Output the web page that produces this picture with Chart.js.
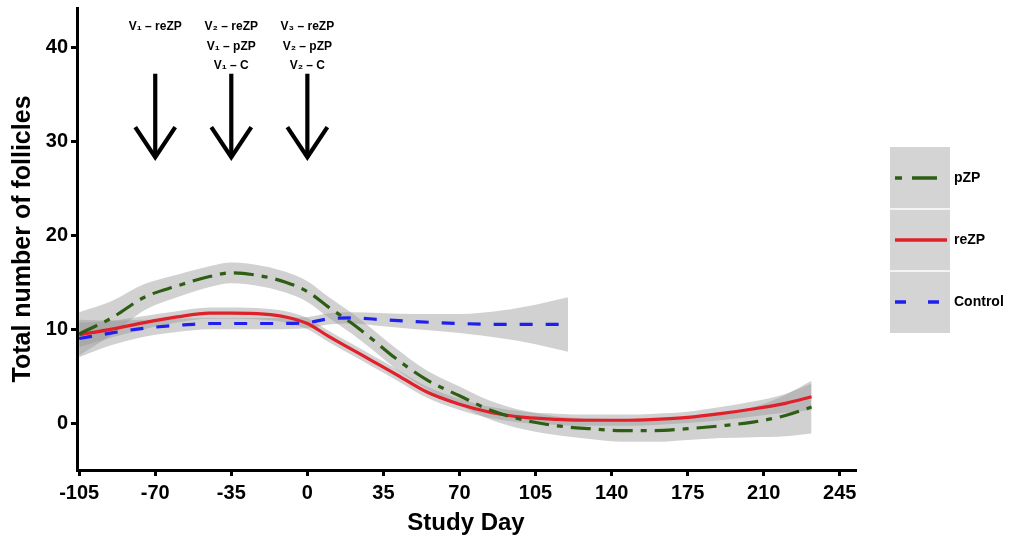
<!DOCTYPE html>
<html>
<head>
    <title>Total number of follicles by study day</title>
    <script src="https://cdn.jsdelivr.net/npm/chart.js@4.4.1/dist/chart.umd.min.js"></script>
    <style>
        html, body {
            margin: 0;
            padding: 0;
            background-color: white;
        }
        .chart-container {
            width: 1015px;
            height: 538px;
        }
    </style>
</head>
<body>
    <div class="chart-container">
        <canvas id="follicleChart"></canvas>
    </div>

    <script>
        // 数据
        const days = [-105, -90, -75, -60, -45, -35, -20, -10, 0, 10, 20, 30, 40, 55, 70, 85, 100, 115, 130, 145, 160, 175, 190, 205, 220, 232];
        const pZP = [9.5, 11.2, 13.4, 14.6, 15.6, 16.0, 15.6, 15.0, 14.0, 12.3, 10.7, 8.9, 7.0, 4.6, 2.9, 1.3, 0.3, -0.3, -0.6, -0.8, -0.8, -0.6, -0.3, 0.1, 0.8, 1.7];
        const pZPLower = [7.2, 9.4, 12.0, 13.4, 14.5, 14.9, 14.5, 13.9, 12.9, 11.2, 9.6, 7.8, 5.9, 3.6, 1.9, 0.3, -0.7, -1.3, -1.7, -2.0, -2.0, -1.8, -1.6, -1.5, -1.4, -1.1];
        const pZPUpper = [11.8, 13.0, 14.8, 15.8, 16.7, 17.1, 16.7, 16.1, 15.1, 13.4, 11.8, 10.0, 8.1, 5.6, 3.9, 2.3, 1.3, 0.7, 0.5, 0.4, 0.4, 0.6, 1.0, 1.7, 3.0, 4.5];

        const reZP = [9.4, 10.0, 10.7, 11.3, 11.7, 11.7, 11.6, 11.3, 10.6, 9.2, 7.9, 6.6, 5.3, 3.3, 2.0, 1.1, 0.6, 0.4, 0.3, 0.3, 0.4, 0.6, 1.0, 1.5, 2.1, 2.8];
        const reZPLower = [8.1, 9.1, 10.0, 10.7, 11.1, 11.1, 11.0, 10.7, 10.0, 8.6, 7.3, 6.0, 4.7, 2.7, 1.4, 0.5, 0.0, -0.2, -0.3, -0.3, -0.2, 0.0, 0.3, 0.7, 1.1, 1.4];
        const reZPUpper = [10.7, 10.9, 11.4, 11.9, 12.3, 12.3, 12.2, 11.9, 11.2, 9.8, 8.5, 7.2, 5.9, 3.9, 2.6, 1.7, 1.2, 1.0, 0.9, 0.9, 1.0, 1.2, 1.7, 2.3, 3.1, 4.2];

        const controlDays = [-105, -90, -75, -60, -45, -30, -15, 0, 10, 20, 35, 50, 70, 90, 105, 120];
        const control = [9.0, 9.6, 10.1, 10.4, 10.6, 10.6, 10.6, 10.7, 11.1, 11.2, 11.0, 10.8, 10.6, 10.5, 10.5, 10.5];
        const controlLower = [7.0, 8.3, 9.2, 9.7, 10.0, 10.0, 10.0, 10.1, 10.5, 10.6, 10.3, 10.0, 9.6, 9.0, 8.4, 7.6];
        const controlUpper = [11.0, 10.9, 11.0, 11.1, 11.2, 11.2, 11.2, 11.3, 11.7, 11.8, 11.7, 11.6, 11.6, 12.0, 12.6, 13.4];

        const xTicks = [-105, -70, -35, 0, 35, 70, 105, 140, 175, 210, 245];
        const yTicks = [0, 10, 20, 30, 40];

        // vaccination arrows
        const arrowDays = [-70, -35, 0];
        const arrowTop = 37.2;
        const arrowTip = 28.0;
        const arrowLabels = [
            ['V\u2081 \u2013 reZP'],
            ['V\u2082 \u2013 reZP', 'V\u2081 \u2013 pZP', 'V\u2081 \u2013 C'],
            ['V\u2083 \u2013 reZP', 'V\u2082 \u2013 pZP', 'V\u2082 \u2013 C']
        ];

        const legendNames = ['pZP', 'reZP', 'Control'];

        const GREEN = '#2e5e14';
        const RED = '#e0202a';
        const BLUE = '#1f1ff0';
        const BAND = 'rgba(153,153,153,0.45)';
        const FONT = 'Liberation Sans, Arial, sans-serif';

        function pts(xs, ys) {
            return xs.map((x, i) => ({ x: x, y: ys[i] }));
        }

        function lineSet(label, xs, ys, color, dash) {
            return {
                label: label,
                data: pts(xs, ys),
                borderColor: color,
                borderWidth: 3.2,
                borderDash: dash,
                pointRadius: 0,
                fill: false,
                cubicInterpolationMode: 'monotone',
                order: 0
            };
        }

        function bandSet(xs, ys, fillTarget) {
            return {
                label: '',
                data: pts(xs, ys),
                borderWidth: 0,
                borderColor: 'rgba(0,0,0,0)',
                backgroundColor: BAND,
                pointRadius: 0,
                fill: fillTarget === null ? false : { target: fillTarget },
                cubicInterpolationMode: 'monotone',
                order: 1
            };
        }

        // 箭头和图例
        const annotations = {
            id: 'annotations',
            afterDraw(chart) {
                const ctx = chart.ctx;
                const xs = chart.scales.x;
                const ys = chart.scales.y;
                const area = chart.chartArea;

                ctx.save();
                ctx.strokeStyle = '#000';
                ctx.fillStyle = '#000';
                ctx.lineWidth = 4.2;
                ctx.lineCap = 'butt';
                ctx.lineJoin = 'miter';
                arrowDays.forEach((d, i) => {
                    const px = xs.getPixelForValue(d);
                    const y0 = ys.getPixelForValue(arrowTop);
                    const y1 = ys.getPixelForValue(arrowTip);
                    ctx.beginPath();
                    ctx.moveTo(px, y0);
                    ctx.lineTo(px, y1 - 3);
                    ctx.stroke();
                    ctx.beginPath();
                    ctx.moveTo(px - 20, y1 - 33);
                    ctx.lineTo(px, y1 - 3);
                    ctx.lineTo(px + 20, y1 - 33);
                    ctx.stroke();

                    ctx.font = 'bold 12px ' + FONT;
                    ctx.textAlign = 'center';
                    ctx.textBaseline = 'middle';
                    arrowLabels[i].forEach((t, j) => {
                        ctx.fillText(t, px, area.top + 19 + j * 19.5);
                    });
                });

                // legend
                const lx = area.right + 35;
                const ly = area.top + 139;
                const kw = 60;
                const kh = 62;
                const styles = [
                    { c: GREEN, dash: [7, 10, 25, 100], x0: 5, x1: 47 },
                    { c: RED, dash: [], x0: 5, x1: 57 },
                    { c: BLUE, dash: [11, 22], x0: 5, x1: 57 }
                ];
                legendNames.forEach((name, i) => {
                    const top = ly + i * kh;
                    ctx.fillStyle = '#d4d4d4';
                    ctx.fillRect(lx, top, kw, kh);
                    ctx.strokeStyle = '#ffffff';
                    ctx.lineWidth = 1.5;
                    ctx.setLineDash([]);
                    if (i > 0) {
                        ctx.beginPath();
                        ctx.moveTo(lx, top);
                        ctx.lineTo(lx + kw, top);
                        ctx.stroke();
                    }
                    const s = styles[i];
                    ctx.strokeStyle = s.c;
                    ctx.lineWidth = 3.5;
                    ctx.setLineDash(s.dash);
                    ctx.beginPath();
                    ctx.moveTo(lx + s.x0, top + kh / 2);
                    ctx.lineTo(lx + s.x1, top + kh / 2);
                    ctx.stroke();
                    ctx.setLineDash([]);
                    ctx.fillStyle = '#000';
                    ctx.font = 'bold 14px ' + FONT;
                    ctx.textAlign = 'left';
                    ctx.textBaseline = 'middle';
                    ctx.fillText(name, lx + kw + 4, top + kh / 2);
                });
                ctx.restore();
            }
        };

        function createChart() {
            const ctx = document.getElementById('follicleChart').getContext('2d');
            new Chart(ctx, {
                type: 'line',
                data: {
                    datasets: [
                        lineSet('pZP', days, pZP, GREEN, [20, 8, 6, 8]),
                        lineSet('reZP', days, reZP, RED, []),
                        lineSet('Control', controlDays, control, BLUE, [13, 13]),
                        bandSet(days, pZPLower, null),
                        bandSet(days, pZPUpper, 3),
                        bandSet(days, reZPLower, null),
                        bandSet(days, reZPUpper, 5),
                        bandSet(controlDays, controlLower, null),
                        bandSet(controlDays, controlUpper, 7)
                    ]
                },
                options: {
                    responsive: true,
                    maintainAspectRatio: false,
                    animation: false,
                    layout: {
                        padding: { top: 8, right: 160, left: 0, bottom: 0 }
                    },
                    plugins: {
                        legend: { display: false },
                        tooltip: { enabled: false }
                    },
                    scales: {
                        x: {
                            type: 'linear',
                            min: -106,
                            max: 252,
                            afterBuildTicks: function (axis) {
                                axis.ticks = xTicks.map(v => ({ value: v }));
                            },
                            afterFit: function (axis) {
                                axis.height = 68;
                                axis.paddingLeft = 0;
                                axis.paddingRight = 0;
                            },
                            border: { display: true, color: '#000', width: 3 },
                            grid: {
                                display: true,
                                drawOnChartArea: false,
                                drawTicks: true,
                                tickLength: 6,
                                color: '#000',
                                lineWidth: 3
                            },
                            ticks: {
                                color: '#000',
                                padding: 5,
                                maxRotation: 0,
                                autoSkip: false,
                                font: { family: FONT, size: 20, weight: 'bold' }
                            },
                            title: {
                                display: true,
                                text: 'Study Day',
                                color: '#000',
                                padding: { top: 0, bottom: 0 },
                                font: { family: FONT, size: 24, weight: 'bold' }
                            }
                        },
                        y: {
                            type: 'linear',
                            min: -5,
                            max: 44.2,
                            afterBuildTicks: function (axis) {
                                axis.ticks = yTicks.map(v => ({ value: v }));
                            },
                            afterFit: function (axis) {
                                axis.width = 77;
                                axis.paddingTop = 0;
                                axis.paddingBottom = 0;
                            },
                            border: { display: true, color: '#000', width: 3 },
                            grid: {
                                display: true,
                                drawOnChartArea: false,
                                drawTicks: true,
                                tickLength: 6,
                                color: '#000',
                                lineWidth: 3
                            },
                            ticks: {
                                color: '#000',
                                padding: 3,
                                font: { family: FONT, size: 20, weight: 'bold' }
                            },
                            title: {
                                display: true,
                                text: 'Total number of follicles',
                                color: '#000',
                                padding: { top: 8, bottom: 4 },
                                font: { family: FONT, size: 25, weight: 'bold' }
                            }
                        }
                    }
                },
                plugins: [annotations]
            });
        }

        // 初始化
        createChart();
    </script>
</body>
</html>
